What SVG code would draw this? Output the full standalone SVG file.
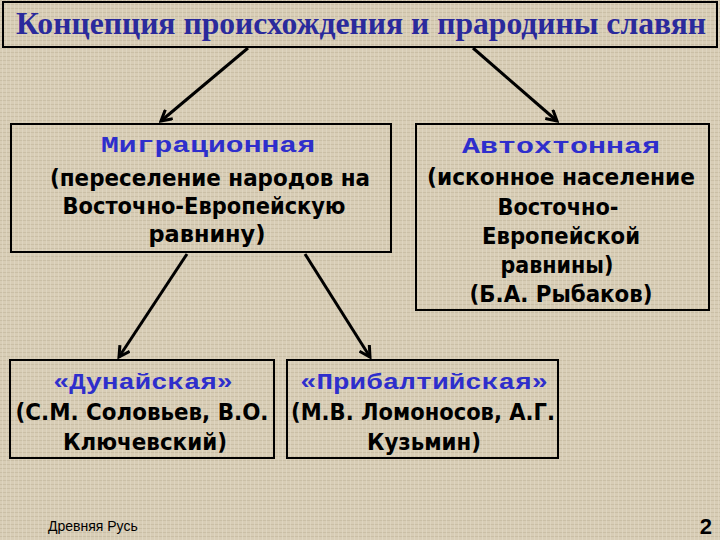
<svg xmlns="http://www.w3.org/2000/svg" width="720" height="540" viewBox="0 0 720 540">
<defs>
<pattern id="tex" width="8" height="8" patternUnits="userSpaceOnUse">
<rect width="8" height="8" fill="#d8cdb6"/>
<path d="M0 0.5H8M0 4.5H8" stroke="#cabfa6" stroke-width="1"/>
<path d="M2.5 0V8M6.5 0V8" stroke="#e3dac6" stroke-width="0.6"/>
</pattern>
<marker id="ah" viewBox="0 0 12 12" refX="10" refY="6" markerWidth="14" markerHeight="14" orient="auto" markerUnits="userSpaceOnUse">
<path d="M1 1 L10 6 L1 11" fill="none" stroke="#000" stroke-width="2.6" stroke-linejoin="miter"/>
</marker>
<style>
.box{fill:none;stroke:#000;stroke-width:2}
.hd{font-family:"Liberation Mono","Courier New",monospace;font-weight:bold;fill:#2e2ecc;text-anchor:middle;font-size:22px}
.tx{font-family:"DejaVu Sans",Verdana,sans-serif;font-weight:bold;fill:#000;text-anchor:middle;font-size:23.5px}
.con line{stroke:#000;stroke-width:3;marker-end:url(#ah)}
</style>
</defs>
<rect width="720" height="540" fill="url(#tex)"/>
<g id="title">
<rect class="box" x="3" y="2" width="714" height="45"/>
<text x="361" y="34" font-family="Liberation Serif, Times New Roman, serif" font-weight="bold" font-size="32" fill="#2a2a9c" text-anchor="middle" textLength="690" lengthAdjust="spacingAndGlyphs">Концепция происхождения и прародины славян</text>
</g>
<g id="connectors" class="con">
<line x1="248" y1="48" x2="161" y2="121"/>
<line x1="473" y1="48" x2="557" y2="121"/>
<line x1="187" y1="254" x2="119" y2="357"/>
<line x1="305" y1="254" x2="370" y2="357"/>
</g>
<g id="migr">
<rect class="box" x="11" y="124" width="380" height="128"/>
<text class="hd" x="208" y="152" textLength="214" lengthAdjust="spacingAndGlyphs">Миграционная</text>
<text class="tx" x="210" y="186" textLength="320" lengthAdjust="spacingAndGlyphs">(переселение народов на</text>
<text class="tx" x="204" y="214" textLength="283" lengthAdjust="spacingAndGlyphs">Восточно-Европейскую</text>
<text class="tx" x="207" y="242" textLength="117" lengthAdjust="spacingAndGlyphs">равнину)</text>
</g>
<g id="auto">
<rect class="box" x="416" y="124" width="293" height="186"/>
<text class="hd" x="561" y="153" textLength="198" lengthAdjust="spacingAndGlyphs">Автохтонная</text>
<text class="tx" x="561" y="185" textLength="268" lengthAdjust="spacingAndGlyphs">(исконное население</text>
<text class="tx" x="558" y="215" textLength="121" lengthAdjust="spacingAndGlyphs">Восточно-</text>
<text class="tx" x="561" y="244" textLength="158" lengthAdjust="spacingAndGlyphs">Европейской</text>
<text class="tx" x="557" y="273" textLength="113" lengthAdjust="spacingAndGlyphs">равнины)</text>
<text class="tx" x="561" y="302" textLength="183" lengthAdjust="spacingAndGlyphs">(Б.А. Рыбаков)</text>
</g>
<g id="dun">
<rect class="box" x="10" y="360" width="264" height="98"/>
<text class="hd" x="143" y="389" textLength="180" lengthAdjust="spacingAndGlyphs">«Дунайская»</text>
<text class="tx" x="142" y="420" textLength="253" lengthAdjust="spacingAndGlyphs">(С.М. Соловьев, В.О.</text>
<text class="tx" x="145" y="450" textLength="164" lengthAdjust="spacingAndGlyphs">Ключевский)</text>
</g>
<g id="balt">
<rect class="box" x="287" y="360" width="271" height="98"/>
<text class="hd" x="424" y="389" textLength="248" lengthAdjust="spacingAndGlyphs">«Прибалтийская»</text>
<text class="tx" x="423" y="420" textLength="264" lengthAdjust="spacingAndGlyphs">(М.В. Ломоносов, А.Г.</text>
<text class="tx" x="424" y="450" textLength="114" lengthAdjust="spacingAndGlyphs">Кузьмин)</text>
</g>
<g id="footer">
<text x="48" y="531" font-family="Liberation Sans, Arial, sans-serif" font-size="14" fill="#000">Древняя Русь</text>
<text x="712" y="534" font-family="Liberation Sans, Arial, sans-serif" font-weight="bold" font-size="22" fill="#000" text-anchor="end">2</text>
</g>
</svg>
